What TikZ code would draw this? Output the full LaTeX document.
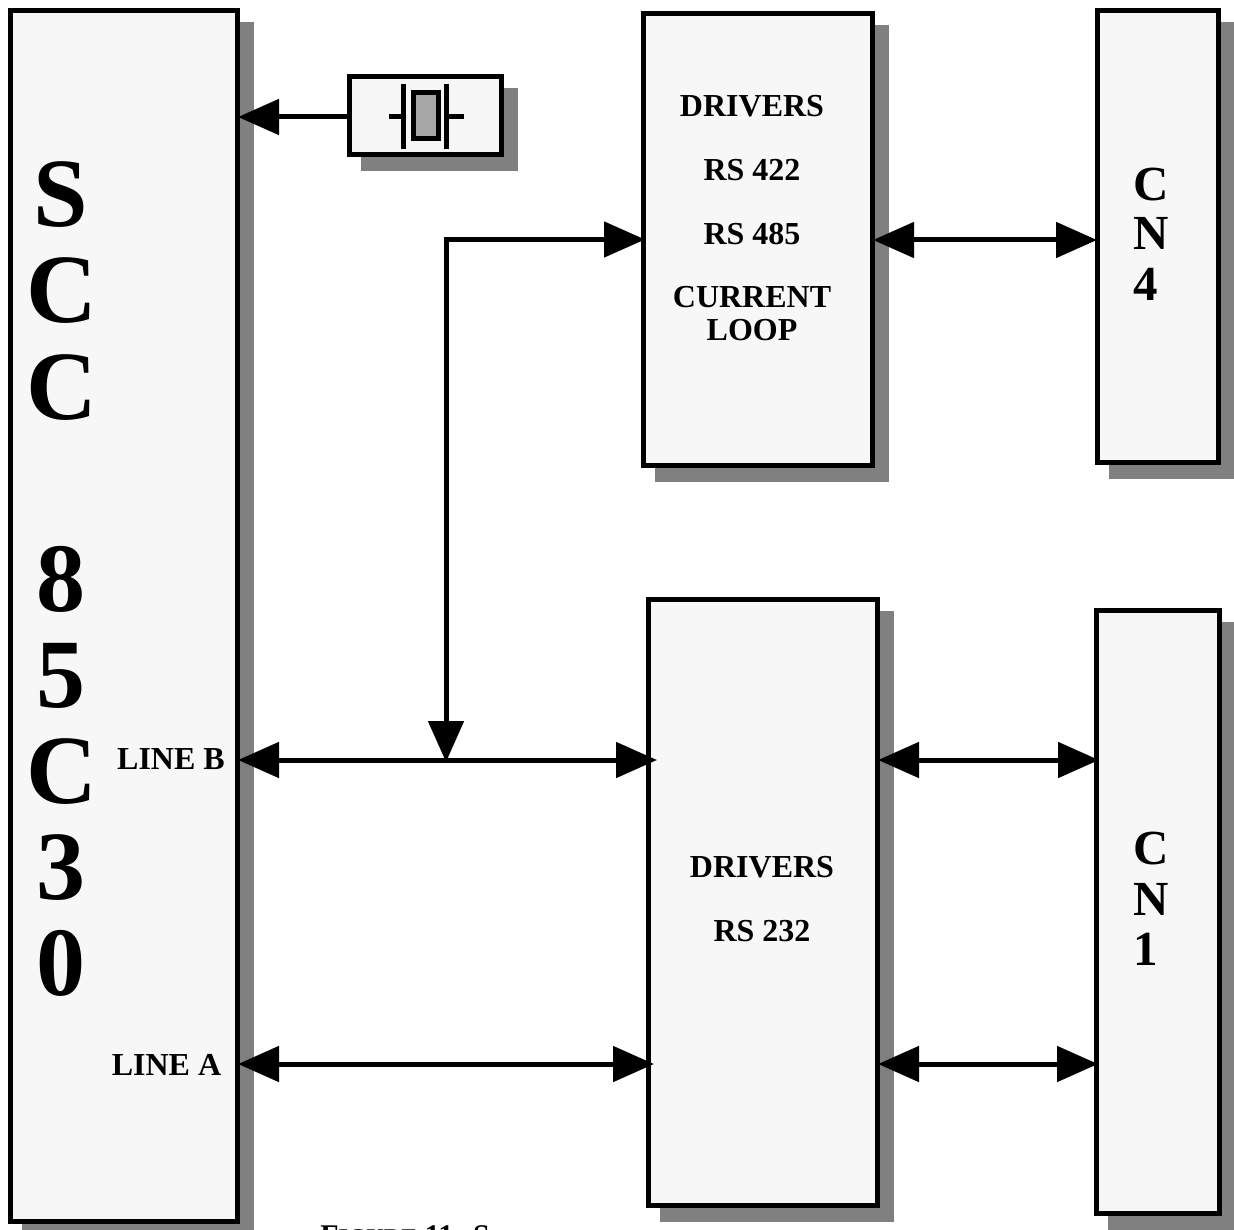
\documentclass[tikz,border=0pt]{standalone}
\usepackage{fontspec}
\setmainfont{Liberation Serif}
\usetikzlibrary{arrows.meta,shadows}
\definecolor{boxfill}{HTML}{F7F7F7}
\definecolor{shadegray}{HTML}{808080}
\definecolor{quartzgray}{HTML}{A6A6A6}
\tikzset{
  blockbox/.style={draw=black,line width=2.5pt,fill=boxfill,inner sep=0pt,
    general shadow={fill=shadegray,draw=shadegray,line width=2.5pt,shadow xshift=7pt,shadow yshift=-7pt}},
  wire/.style={draw=black,line width=2.5pt},
  headR/.style={-{Triangle[length=20.5pt,width=17.5pt]},shorten >=-1pt},
  headB/.style={{Triangle[length=20.5pt,width=17.5pt]}-{Triangle[length=20.5pt,width=17.5pt]},shorten <=-1pt,shorten >=-1pt},
  bigtxt/.style={anchor=base,inner sep=0pt,font=\fontsize{49}{49}\selectfont\bfseries},
  midtxt/.style={anchor=base,inner sep=0pt,font=\fontsize{24.5}{24.5}\selectfont\bfseries},
  smalltxt/.style={anchor=base,inner sep=0pt,font=\fontsize{16}{16}\selectfont\bfseries},
  captxt/.style={anchor=base west,inner sep=0pt,font=\fontsize{15}{15}\selectfont\bfseries},
}
\begin{document}
\begin{tikzpicture}[x=0.5pt,y=-0.5pt]
\useasboundingbox (0,0) rectangle (1234,1229);
\clip (0,0) rectangle (1234,1229);
% blocks
\node[blockbox,minimum width=113.5pt,minimum height=605.25pt] (scc) at (124,615.75) {};
\node[blockbox,minimum width=76pt,minimum height=39pt] (xtal) at (425.5,115.5) {};
\node[blockbox,minimum width=114.5pt,minimum height=226pt] (drvA) at (758,239.5) {};
\node[blockbox,minimum width=60.5pt,minimum height=226pt] (cnA) at (1158,236.5) {};
\node[blockbox,minimum width=114.5pt,minimum height=303pt] (drvB) at (763,902.5) {};
\node[blockbox,minimum width=61.5pt,minimum height=301.5pt] (cnB) at (1158,912) {};
% crystal symbol
\node[draw=black,line width=2.5pt,fill=quartzgray,minimum width=12.5pt,minimum height=23pt,inner sep=0pt] (quartz) at (426,115.5) {};
\coordinate (pl1t) at (403,84); \coordinate (pl1b) at (403,149);
\coordinate (pl2t) at (446,84); \coordinate (pl2b) at (446,149);
\coordinate (ld1a) at (389,117); \coordinate (ld1b) at (403,117);
\coordinate (ld2a) at (446,117); \coordinate (ld2b) at (464,117);
\draw[wire] (pl1t) -- (pl1b);
\draw[wire] (pl2t) -- (pl2b);
\draw[wire] (ld1a) -- (ld1b);
\draw[wire] (ld2a) -- (ld2b);
% connector levels
\coordinate (yx) at (0,117);
\coordinate (yt) at (0,240);
\coordinate (yb) at (0,760);
\coordinate (ya) at (0,1064);
\coordinate (lbR) at (655,760);
\coordinate (laR) at (652,1064);
\coordinate (tJ) at (446,760);
\coordinate (tT) at (643,239.5);
\coordinate (c4R) at (1095,240);
\coordinate (c1Rb) at (1097,760);
\coordinate (c1Ra) at (1096,1064);
% connectors
\draw[wire,headR] (xtal.west |- yx) -- (scc.east |- yx);
\draw[wire,headB] (scc.east |- yb) -- (lbR);
\draw[wire,headB] (scc.east |- ya) -- (laR);
\draw[wire,headB,line join=miter] (tJ) |- (tT);
\draw[wire,headB] (drvA.east |- yt) -- (c4R);
\draw[wire,headB] (drvB.east |- yb) -- (c1Rb);
\draw[wire,headB] (drvB.east |- ya) -- (c1Ra);
% SCC 85C30 letters
\node[bigtxt] (s1) at (61,226.5) {S};
\node[bigtxt] (s2) at (62,323) {C};
\node[bigtxt] (s3) at (62,419.5) {C};
\node[bigtxt] (s4) at (61,611) {8};
\node[bigtxt] (s5) at (61,707) {5};
\node[bigtxt] (s6) at (62,803) {C};
\node[bigtxt] (s7) at (61,899) {3};
\node[bigtxt] (s8) at (61,995) {0};
% line labels
\node[smalltxt] (lb) at (171,769) {LINE B};
\node[smalltxt] (la) at (166.5,1075) {LINE A};
% drivers A
\node[smalltxt] (t1) at (752,117) {DRIVERS};
\node[smalltxt] (t2) at (752,181) {RS 422};
\node[smalltxt] (t3) at (752,245) {RS 485};
\node[smalltxt] (t4) at (752,308) {CURRENT};
\node[smalltxt] (t5) at (752,341) {LOOP};
% drivers B
\node[smalltxt] (t6) at (762,877) {DRIVERS};
\node[smalltxt] (t7) at (762,941) {RS 232};
% connectors labels
\node[midtxt] (c1) at (1151,201) {C};
\node[midtxt] (c2) at (1151,250) {N};
\node[midtxt] (c3) at (1146,301) {4};
\node[midtxt] (c4) at (1151,864) {C};
\node[midtxt] (c5) at (1151,915) {N};
\node[midtxt] (c6) at (1146,965) {1};
% caption, cut by the page edge
\node[captxt] (cap) at (320,1245) {F{\fontsize{12}{12}\selectfont IGURE} 11: S};
\end{tikzpicture}
\end{document}
